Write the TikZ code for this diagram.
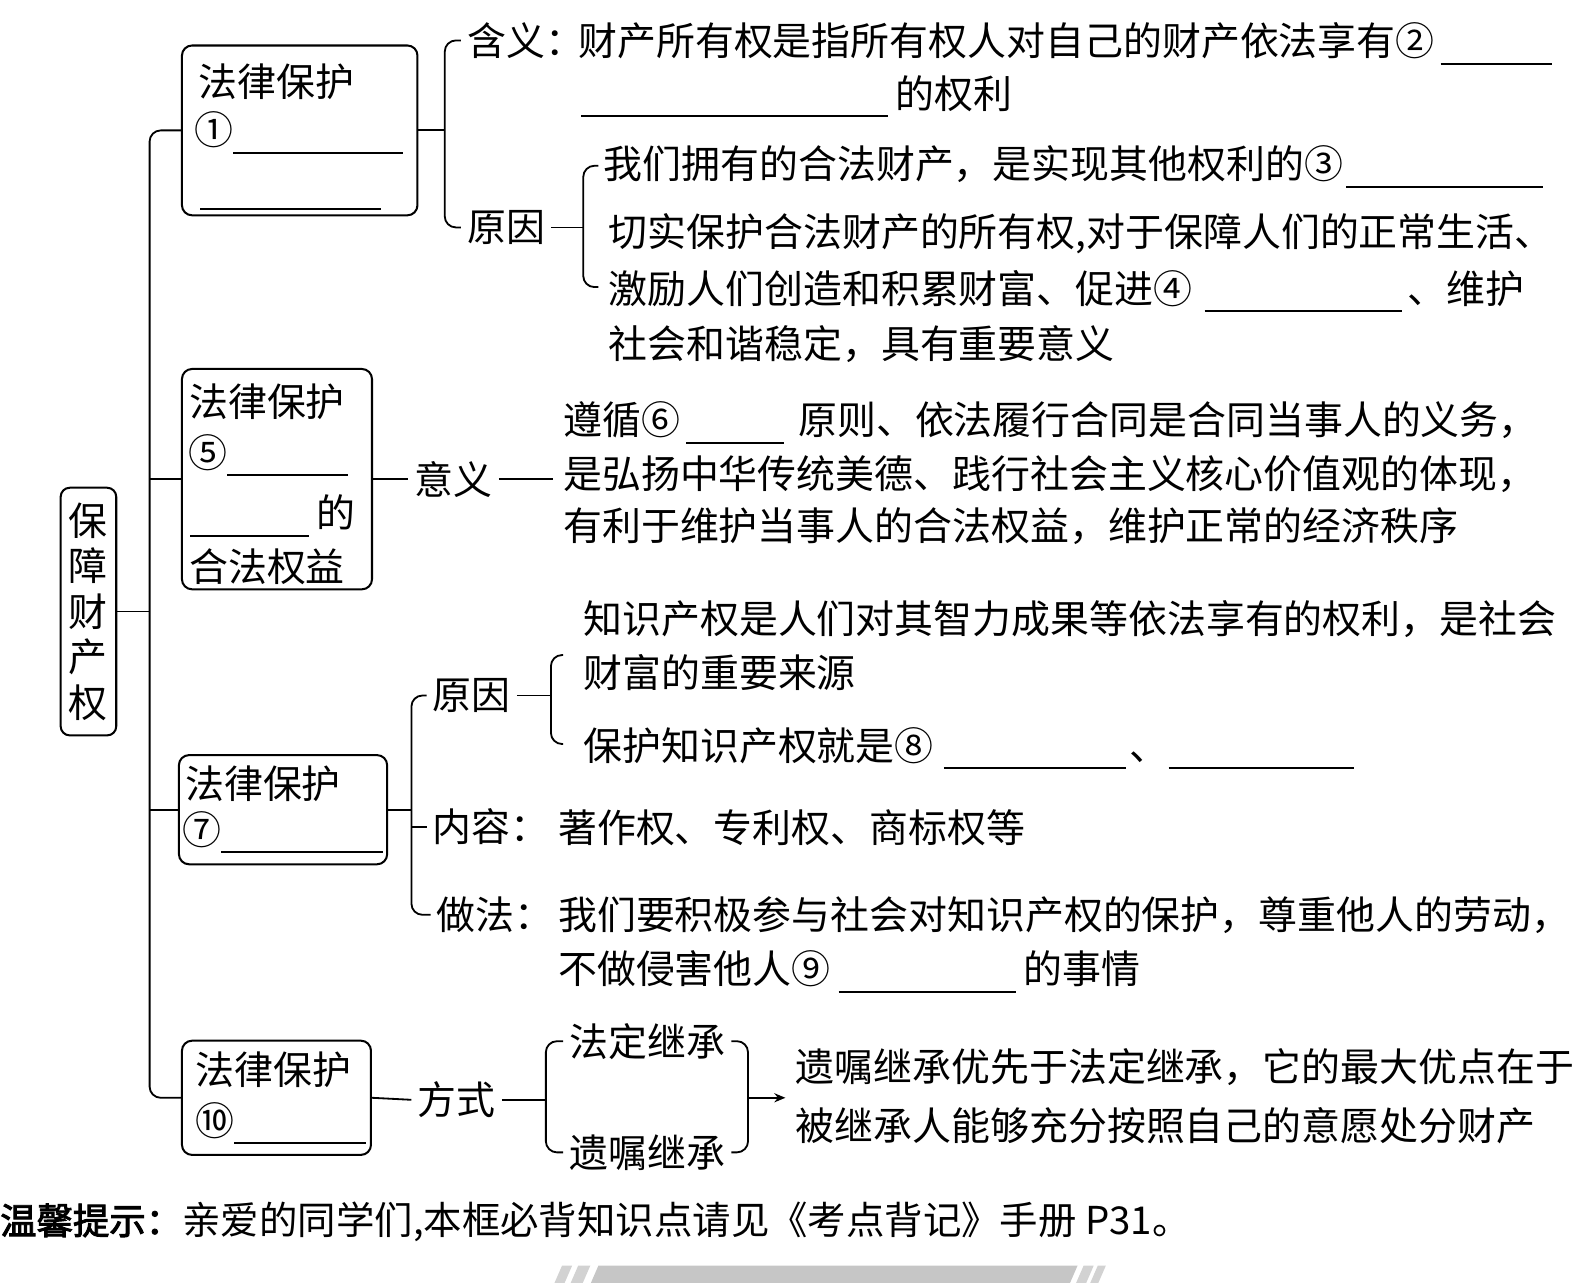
\documentclass[tikz,border=0pt]{standalone}
\usepackage{fontspec}
\setmainfont{Noto Sans CJK SC}
\newfontfamily\tipfont[FakeBold=2.5]{Noto Sans CJK SC}
\usetikzlibrary{arrows.meta, positioning}

\newcommand{\bodyfs}{\fontsize{38.5pt}{46pt}\selectfont}
\newcommand{\blank}[1]{\rule[-9pt]{#1}{2pt}}

\begin{document}
\begin{tikzpicture}[x=1pt, y=-1pt,
    rootbox/.style={draw, line width=2pt, rounded corners=9pt, minimum width=55pt, minimum height=245pt, inner sep=0pt, align=center, font=\fontsize{38.5pt}{45pt}\selectfont},
    lawbox/.style={draw, line width=2pt, rounded corners=10pt, inner sep=0pt},
    txt/.style={anchor=base west, inner sep=0pt, font=\bodyfs},
    lbl/.style={anchor=west, inner sep=6pt, font=\bodyfs},
    conn/.style={line width=1.8pt},
    brk/.style={line width=1.8pt, rounded corners=11pt},
    arrow/.style={line width=1.8pt, -{Stealth[length=11pt, width=9pt]}}
]
    \useasboundingbox (0, 0) rectangle (1568, 1269);

    \node [rootbox] (root) at (87.5, 605) {保\\障\\财\\产\\权};
    \coordinate (trk) at (148, 605);

    \node [lawbox, minimum width=233pt, minimum height=168pt] (b1) at (296.5, 129) {};
    \node [lawbox, minimum width=188pt, minimum height=218pt] (b2) at (274, 474) {};
    \node [lawbox, minimum width=206pt, minimum height=108pt] (b3) at (280, 801) {};
    \node [lawbox, minimum width=187pt, minimum height=113pt] (b4) at (273.5, 1086) {};

    \node [txt] (b1a) at (196, 95) {法律保护};
    \node [txt] (b1b) at (192, 143) {①\blank{168pt}};
    \node [txt] (b1c) at (198, 199) {\blank{179pt}};

    \node [txt] (b2a) at (187, 412) {法律保护};
    \node [txt] (b2b) at (186, 462) {⑤\blank{120pt}};
    \node [txt] (b2c) at (188, 522) {\blank{117pt}\hspace{8pt}的};
    \node [txt] (b2d) at (187, 575) {合法权益};

    \node [txt] (b3a) at (183, 790) {法律保护};
    \node [txt] (b3b) at (180, 835) {⑦\blank{160pt}};

    \node [txt] (b4a) at (193, 1073) {法律保护};
    \node [txt] (b4b) at (193, 1123) {⑩\blank{130pt}};

    \draw [conn] (root.east) -- (trk);
    \draw [conn, rounded corners=11pt] (b1.west) -- (b1.west -| trk) -- (b4.west -| trk) -- (b4.west);
    \draw [conn] (trk |- b2.west) -- (b2.west);
    \draw [conn] (trk |- b3.west) -- (b3.west);

    \node [lbl] (hy) at (456, 40) {含义：};
    \node [lbl] (yy) at (456, 225) {原因};
    \coordinate (br1) at (440, 225);
    \draw [brk] (hy.west) -| (br1) -- (yy.west);
    \draw [conn] (b1.east) -- (b1.east -| br1);

    \node [txt] (t1a) at (572, 55) {财产所有权是指所有权人对自己的财产依法享有②\hspace{6pt}\blank{110pt}};
    \node [txt] (t1b) at (575, 107) {\blank{303pt}\hspace{8pt}的权利};

    \coordinate (br2) at (577, 225);
    \coordinate (br2t) at (592, 164);
    \coordinate (br2b) at (592, 284);
    \draw [brk] (br2t) -| (br2) |- (br2b);
    \draw [conn] (yy.east) -- (br2);

    \node [txt] (t2a) at (597, 177) {我们拥有的合法财产，是实现其他权利的③\hspace{3pt}\blank{195pt}};
    \node [txt] (t2b) at (602, 244) {切实保护合法财产的所有权,对于保障人们的正常生活、};
    \node [txt] (t2c) at (602, 300) {激励人们创造和积累财富、促进④\hspace{12pt}\blank{195pt}\hspace{6pt}、维护};
    \node [txt] (t2d) at (602, 355) {社会和谐稳定，具有重要意义};

    \node [lbl] (yiyi) at (404, 474) {意义};
    \draw [conn] (b2.east) -- (yiyi.west);
    \node [txt] (t3a) at (557, 430) {遵循⑥\hspace{6pt}\blank{97pt}\hspace{14pt}原则、依法履行合同是合同当事人的义务，};
    \node [txt] (t3b) at (557, 483) {是弘扬中华传统美德、践行社会主义核心价值观的体现，};
    \node [txt] (t3c) at (557, 535) {有利于维护当事人的合法权益，维护正常的经济秩序};
    \draw [conn, shorten >=10pt] (yiyi.east) -- (yiyi.east -| t3b.west);

    \node [lbl] (yy2) at (422, 688) {原因};
    \node [lbl] (nr) at (422, 818) {内容：};
    \node [lbl] (zf) at (426, 905) {做法：};
    \coordinate (br3) at (407, 818);
    \draw [brk] (yy2.west) -| (br3) |- (zf.west);
    \draw [conn] (nr.west) -- (br3);
    \draw [conn] (b3.east) -- (b3.east -| br3);

    \coordinate (br4) at (545, 688);
    \coordinate (br4t) at (557, 648);
    \coordinate (br4b) at (557, 736);
    \draw [brk] (br4t) -| (br4) |- (br4b);
    \draw [conn] (yy2.east) -- (br4);

    \node [txt] (t4a) at (577, 627) {知识产权是人们对其智力成果等依法享有的权利，是社会};
    \node [txt] (t4b) at (577, 680) {财富的重要来源};
    \node [txt] (t4c) at (577, 752) {保护知识产权就是⑧\hspace{10pt}\blank{180pt}\hspace{4pt}、\blank{183pt}};
    \node [txt] (t5) at (552, 833) {著作权、专利权、商标权等};
    \node [txt] (t6a) at (552, 920) {我们要积极参与社会对知识产权的保护，尊重他人的劳动，};
    \node [txt] (t6b) at (552, 973) {不做侵害他人⑨\hspace{8pt}\blank{175pt}\hspace{8pt}的事情};

    \node [lbl] (fs) at (407, 1088) {方式};
    \draw [conn] (b4.east) -- (fs.west);
    \node [lbl] (fd) at (557, 1030) {法定继承};
    \node [lbl] (yz) at (557, 1140) {遗嘱继承};
    \coordinate (br5) at (540, 1088);
    \draw [brk] (fd.west) -| (br5) |- (yz.west);
    \draw [conn] (fs.east) -- (br5);
    \coordinate (br6) at (740, 1086);
    \draw [brk] (fd.east) -| (br6) |- (yz.east);
    \coordinate (arr) at (777, 1086);
    \draw [arrow] (br6) -- (arr);

    \node [txt] (t7a) at (787, 1070) {遗嘱继承优先于法定继承，它的最大优点在于};
    \node [txt] (t7b) at (787, 1128) {被继承人能够充分按照自己的意愿处分财产};

    \node [anchor=base west, inner sep=0pt, font=\tipfont\fontsize{36pt}{40pt}\selectfont] (tip) at (0, 1221) {温馨提示：};
    \node [anchor=base west, inner sep=0pt, font=\fontsize{38pt}{40pt}\selectfont] (tipt) at (tip.base east) {亲爱的同学们,本框必背知识点请见《考点背记》手册 P31。};

    \fill [gray!45] (592, 1252) -- (1066, 1252) -- (1056, 1275) -- (582, 1275) -- cycle;
    \fill [gray!35] (556, 1252) -- (566, 1252) -- (556, 1275) -- (546, 1275) -- cycle;
    \fill [gray!35] (572, 1252) -- (584, 1252) -- (574, 1275) -- (562, 1275) -- cycle;
    \fill [gray!35] (1072, 1252) -- (1082, 1252) -- (1072, 1275) -- (1062, 1275) -- cycle;
    \fill [gray!35] (1086, 1252) -- (1094, 1252) -- (1084, 1275) -- (1076, 1275) -- cycle;
\end{tikzpicture}
\end{document}
